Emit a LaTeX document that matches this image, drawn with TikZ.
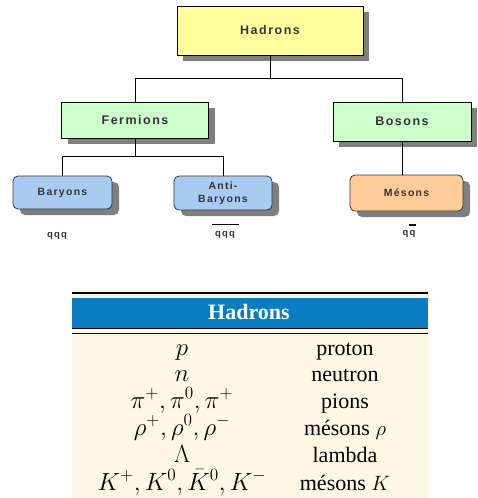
\documentclass[tikz,border=0pt]{standalone}
\usepackage{fontspec}
\setmainfont{Liberation Serif}
\newfontfamily\boxfont[LetterSpace=12]{Liberation Sans}
\usetikzlibrary{shadows}
\definecolor{hyel}{HTML}{FFFF9E}
\definecolor{fgreen}{HTML}{CCFFCC}
\definecolor{bblue}{HTML}{A9CBF2}
\definecolor{morange}{HTML}{FFCC99}
\definecolor{tblue}{HTML}{0A7CC2}
\definecolor{beige}{HTML}{FEF7E6}
\definecolor{txtgray}{HTML}{333333}
\definecolor{shgray}{HTML}{7F7F7F}
\tikzset{
  sqbox/.style={draw=black, line width=0.8pt, minimum height=37pt,
    font=\boxfont\bfseries\fontsize{12.5}{14}\selectfont, text=txtgray,
    drop shadow={shadow xshift=6pt, shadow yshift=-6pt, fill=shgray, opacity=1}},
  rbox/.style={draw=black!80, line width=0.8pt, rounded corners=5pt, minimum height=34pt,
    align=center, font=\boxfont\bfseries\fontsize{10.5}{13}\selectfont, text=txtgray,
    drop shadow={shadow xshift=7pt, shadow yshift=-6pt, fill=shgray, opacity=1}},
  quark/.style={font=\boxfont\bfseries\fontsize{9.5}{11}\selectfont, text=txtgray},
  conn/.style={draw=black, line width=0.8pt},
  lcell/.style={font=\fontsize{22}{26}\selectfont, anchor=base, inner sep=0pt},
  rcell/.style={font=\fontsize{22}{26}\selectfont, anchor=base, inner sep=0pt}
}
\begin{document}
\begin{tikzpicture}[x=1pt,y=-1pt]
\useasboundingbox (0,0) rectangle (477,498);
% top diagram
\node[sqbox, fill=hyel, minimum width=186pt, minimum height=49pt] (had) at (270,30.5) {Hadrons};
\node[sqbox, fill=fgreen, minimum width=147pt, minimum height=36pt] (fer) at (135,120) {Fermions};
\node[sqbox, fill=fgreen, minimum width=138pt, minimum height=39pt] (bos) at (402,121.5) {Bosons};
\node[rbox, fill=bblue, minimum width=99pt, minimum height=33pt] (bar) at (62.5,192.5) {Baryons};
\node[rbox, fill=bblue, minimum width=98pt, minimum height=34pt] (abar) at (223,193) {Anti-\\Baryons};
\node[rbox, fill=morange, minimum width=113pt, minimum height=36pt] (mes) at (406.5,193) {Mésons};
\coordinate (j1) at (270,78);
\coordinate (j2) at (135,156);
\draw[conn] (had.south) -- (j1);
\draw[conn] (j1) -| (fer.north);
\draw[conn] (j1) -| (bos.north);
\draw[conn] (fer.south) -- (j2);
\draw[conn] (j2) -| (bar.north);
\draw[conn] (j2) -| (abar.north);
\draw[conn] (bos.south) -- (bos.south |- mes.north);
\node[quark] (q1) at (57,236) {qqq};
\node[quark] (q2) at (225,235) {qqq};
\draw[line width=1.3pt] (212,224.5) -- (239,224.5);
\node[quark] (q3) at (409,234) {qq};
\draw[line width=1.6pt] (408.5,225) -- (415.5,225);
% table
\fill[beige] (72,290) rectangle (429,498);
\draw[line width=1.3pt] (72,293) -- (428,293);
\fill[tblue] (72,298) rectangle (428,328);
\draw[line width=0.8pt] (72,328.5) -- (428,328.5);
\draw[line width=1.6pt] (72,333.5) -- (428,333.5);
\node[font=\fontsize{22}{26}\selectfont\bfseries, text=white] (th) at (249,312) {Hadrons};
\foreach \l/\r/\y [count=\i] in {{$p$}/{proton}/355, {$n$}/{neutron}/381,
  {$\pi^+, \pi^0, \pi^+$}/{pions}/408, {$\rho^+, \rho^0, \rho^-$}/{mésons $\rho$}/435,
  {$\Lambda$}/{lambda}/462, {$K^+, K^0, \bar{K}^0, K^-$}/{mésons $K$}/490}{
  \node[lcell] (l\i) at (182,\y) {\scalebox{1.2}{\l}};
  \node[rcell] (r\i) at (345,\y) {\r};
}
\end{tikzpicture}
\end{document}
